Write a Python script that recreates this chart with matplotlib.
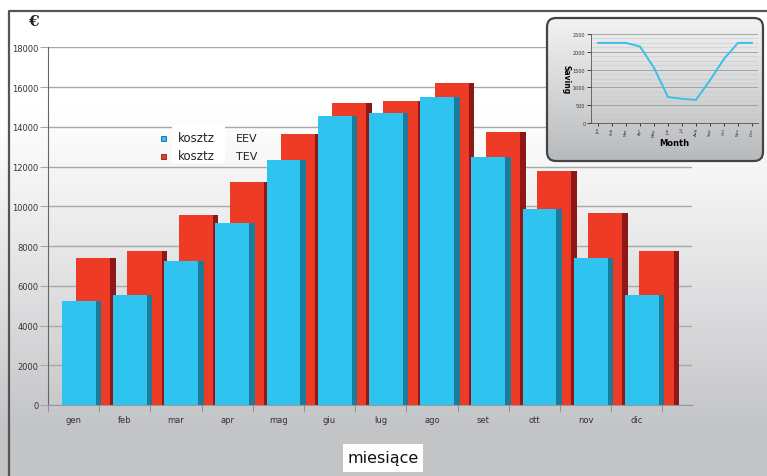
import matplotlib

matplotlib.use("Agg")
import matplotlib.pyplot as plt  # noqa: E402
import numpy as np  # noqa: E402
from matplotlib.patches import FancyBboxPatch, Rectangle  # noqa: E402

# main chart: monthly cost, EEV vs TEV
months = ["gen", "feb", "mar", "apr", "mag", "giu", "lug", "ago", "set", "ott", "nov", "dic"]
cost_eev = [5250, 5540, 7240, 9150, 12310, 14520, 14690, 15500, 12480, 9870, 7390, 5540]
cost_tev = [7390, 7740, 9540, 11220, 13650, 15210, 15300, 16220, 13740, 11800, 9660, 7770]
yticks = list(range(0, 18001, 2000))

# inset: saving per month
inset_months = ["Jan", "Feb", "Mar", "Apr", "May", "Jun",
                "Jul", "Aug", "Sep", "Oct", "Nov", "Dec"]
saving = [2250, 2250, 2250, 2150, 1550, 730, 680, 650, 1200, 1800, 2250, 2250]
inset_yticks = [0, 500, 1000, 1500, 2000, 2500]

W, H = 767, 477
BLUE, BLUE_SIDE = "#2fc4f0", "#1a7c99"
RED, RED_SIDE = "#ee3b26", "#8e1717"
GRID = "#a8a8a8"

fig = plt.figure(figsize=(W / 100, H / 100), dpi=100)


def px_axes(z):
    """Full-figure axes in pixel coords (y down)."""
    a = fig.add_axes([0, 0, 1, 1], zorder=z)
    a.set_xlim(0, W)
    a.set_ylim(H, 0)
    a.axis("off")
    a.patch.set_alpha(0)
    return a


# background gradient + frame
bg = px_axes(0)
yy = np.linspace(0, H, 200)
t = np.clip((yy - 110) / (430 - 110), 0, 1) ** 1.1
col = (1 - t)[:, None] * np.array([1.0, 1.0, 1.0]) + t[:, None] * np.array([0.765, 0.769, 0.78])
grad = np.repeat(col[:, None, :], 2, axis=1)
bg.imshow(grad, extent=(0, W, H, 0), aspect="auto", interpolation="bilinear")
bg.plot([9, 9, W], [H, 12, 12], color="#555555", lw=1.6, solid_capstyle="butt")

# main axes
ax = fig.add_axes([48 / W, 1 - 406 / H, (692 - 48) / W, (406 - 48.3) / H], zorder=1)
ax.patch.set_alpha(0)
x = np.arange(len(months))
ax.bar(x + 0.55, cost_tev, width=0.67, align="edge", color=RED, zorder=2)
ax.bar(x + 1.22, cost_tev, width=0.11, align="edge", color=RED_SIDE, zorder=2)
ax.bar(x + 0.27, cost_eev, width=0.66, align="edge", color=BLUE, zorder=3)
ax.bar(x + 0.93, cost_eev, width=0.11, align="edge", color=BLUE_SIDE, zorder=3)
ax.set_xlim(0, 12.58)
ax.set_ylim(0, 18000)
ax.set_yticks(yticks)
ax.set_yticklabels([str(v) for v in yticks], fontsize=6, color="#333333")
ax.yaxis.grid(True, color=GRID, lw=1)
ax.set_axisbelow(True)
ax.tick_params(axis="y", length=6, color=GRID, pad=1)
ax.set_xticks(x + 0.5)
ax.set_xticklabels(months, fontsize=6, color="#333333")
ax.set_xticks(np.arange(len(months) + 1), minor=True)
ax.tick_params(axis="x", which="major", length=0, pad=7)
ax.tick_params(axis="x", which="minor", length=5, color="#888888")
for s in ("top", "right"):
    ax.spines[s].set_visible(False)
ax.spines["left"].set_color("#666666")
ax.spines["bottom"].set_color("#999999")

# overlay: legend, labels, inset box
ov = px_axes(2)
ov.text(33, 22, "€", fontsize=11, fontweight="bold", family="DejaVu Serif",
        ha="center", va="center", color="#222222")
ov.add_patch(Rectangle((172, 126), 53, 38, color="white", lw=0))
for yc, c, ec, name in [(139, BLUE, "#1565a0", "EEV"), (157, RED, "#8e1717", "TEV")]:
    ov.add_patch(Rectangle((160.5, yc - 2.5), 5, 5, facecolor=c, edgecolor=ec, lw=0.6))
    ov.text(178, yc, "kosztz", fontsize=8.5, va="center", ha="left", color="#222222")
    ov.text(236, yc, name, fontsize=8, va="center", ha="left", color="#222222")
ov.add_patch(Rectangle((343, 445), 80, 28, color="white", lw=0))
ov.text(383, 459, "miesiące", fontsize=11.5, ha="center", va="center", color="#111111")

box = FancyBboxPatch((547, 19), 216, 143, boxstyle="round,pad=0,rounding_size=9",
                     facecolor="none", edgecolor="#444444", lw=1.6, zorder=3)
ov.add_patch(box)
by = np.linspace(0, 1, 100)
bcol = (1 - by)[:, None] * np.array([0.95, 0.95, 0.95]) + by[:, None] * np.array([0.72, 0.73, 0.74])
im = ov.imshow(np.repeat(bcol[:, None, :], 2, axis=1), extent=(547, 763, 162, 19),
               aspect="auto", interpolation="bilinear", zorder=2)
im.set_clip_path(box)
ov.set_xlim(0, W)
ov.set_ylim(H, 0)

# inset chart
ins = fig.add_axes([591 / W, 1 - 124 / H, (758 - 591) / W, (124 - 35) / H], zorder=3)
ins.patch.set_alpha(0)
xi = np.arange(len(inset_months))
ins.plot(xi, saving, color="#3bbfea", lw=1.4)
ins.set_xlim(-0.5, 11.43)
ins.set_ylim(0, 2500)
ins.set_yticks(inset_yticks)
ins.set_yticklabels([str(v) for v in inset_yticks], fontsize=3.5, color="#333333")
ins.set_yticks(np.arange(0, 2501, 125), minor=True)
ins.yaxis.grid(True, which="major", color="#9a9a9a", lw=0.6)
ins.yaxis.grid(True, which="minor", color="#c8c8c8", lw=0.4)
ins.tick_params(axis="y", which="minor", length=0)
ins.tick_params(axis="y", which="major", length=3, width=0.5, pad=1)
ins.set_xticks(xi)
ins.set_xticklabels(inset_months, fontsize=3, rotation=90, color="#333333")
ins.tick_params(axis="x", length=2, width=0.5, pad=1)
ins.set_xlabel("Month", fontsize=6, fontweight="bold", labelpad=2)
ins.set_ylabel("Saving", fontsize=5.5, fontweight="bold", rotation=270, labelpad=8)
for s in ("top", "right"):
    ins.spines[s].set_visible(False)
for s in ("left", "bottom"):
    ins.spines[s].set_color("#555555")
    ins.spines[s].set_linewidth(0.6)

fig.savefig("out.png", dpi=100)
